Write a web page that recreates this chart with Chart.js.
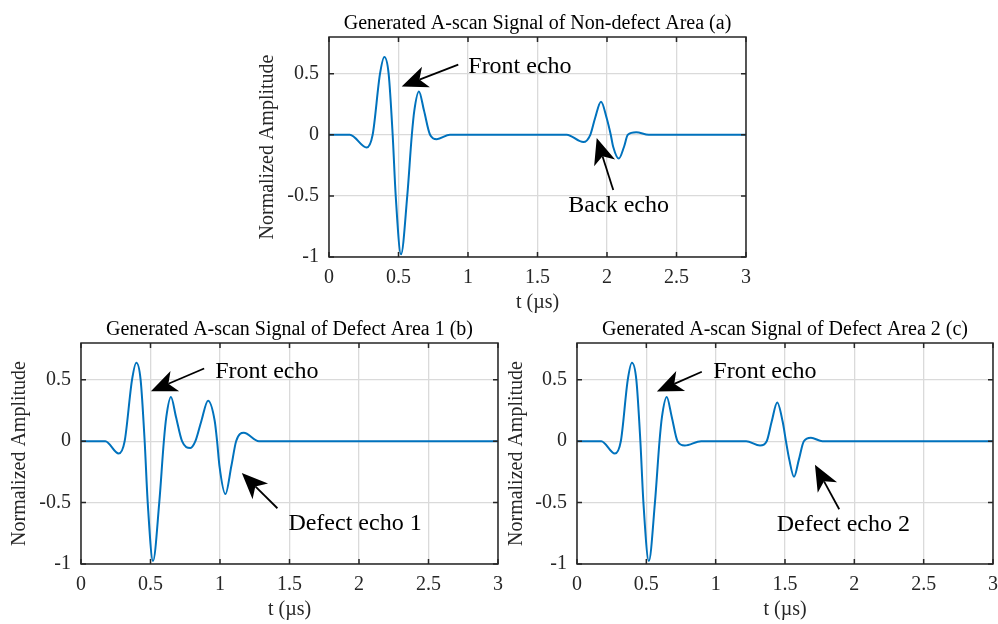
<!DOCTYPE html>
<html>
<head>
<meta charset="utf-8">
<script src="https://cdn.jsdelivr.net/npm/chart.js@4.4.1/dist/chart.umd.min.js"></script>
<style>
  body { margin: 0; background: #fff; }
  #wrap { position: relative; width: 998px; height: 624px; overflow: hidden; background: #fff; }
  canvas { position: absolute; }
</style>
</head>
<body>
<div id="wrap">
  <canvas id="scanA" width="510" height="320" style="left:250px;top:0px;width:510px;height:320px"></canvas>
  <canvas id="scanB" width="512" height="318" style="left:0px;top:306px;width:512px;height:318px"></canvas>
  <canvas id="scanC" width="498" height="318" style="left:500px;top:306px;width:498px;height:318px"></canvas>
</div>
<script>
// axis ticks shared by all three panels
const xTicks = [0, 0.5, 1, 1.5, 2, 2.5, 3];
const yTicks = [-1, -0.5, 0, 0.5];

// (a) non-defect area: front echo + back echo
const timeA = [0, 0.15, 0.271, 0.314, 0.367, 0.398, 0.429, 0.458, 0.48, 0.518, 0.563, 0.596,
               0.614, 0.647, 0.683, 0.727, 0.775, 0.87,
               1.71, 1.83, 1.88, 1.914, 1.957, 1.998, 2.027, 2.045, 2.085, 2.122, 2.15, 2.21, 2.30, 3];
const ampA  = [0, 0, -0.104, 0, 0.5, 0.637, 0.5, 0, -0.5, -0.978, -0.5, 0,
               0.2, 0.355, 0.2, 0, -0.036, 0,
               0, -0.06, 0, 0.135, 0.27, 0.135, 0, -0.1, -0.195, -0.1, 0, 0.02, 0, 0];

// (b) defect area 1: front echo + defect echo 1
const timeB = [0, 0.175, 0.271, 0.314, 0.367, 0.398, 0.429, 0.458, 0.48, 0.518, 0.563, 0.596,
               0.614, 0.647, 0.683, 0.727, 0.787, 0.823, 0.866, 0.914, 0.962, 0.979,
               0.996, 1.039, 1.082, 1.116, 1.171, 1.28, 3];
const ampB  = [0, 0, -0.10, 0, 0.5, 0.64, 0.5, 0, -0.5, -0.975, -0.5, 0,
               0.2, 0.36, 0.2, 0, -0.055, 0, 0.165, 0.33, 0.165, 0,
               -0.2, -0.43, -0.2, 0, 0.068, 0, 0];

// (c) defect area 2: front echo + defect echo 2
const timeC = [0, 0.175, 0.273, 0.316, 0.366, 0.396, 0.428, 0.457, 0.479, 0.518, 0.562, 0.595,
               0.613, 0.647, 0.683, 0.725, 0.777, 0.895,
               1.22, 1.32, 1.368, 1.404, 1.444, 1.483, 1.507, 1.531, 1.565, 1.60, 1.636, 1.687, 1.77, 3];
const ampC  = [0, 0, -0.10, 0, 0.5, 0.64, 0.5, 0, -0.5, -0.975, -0.5, 0,
               0.2, 0.36, 0.2, 0, -0.035, 0,
               0, -0.035, 0, 0.16, 0.315, 0.16, 0, -0.15, -0.29, -0.15, 0, 0.028, 0, 0];

// arrow notes, in data units: tail -> head, text baseline start
const notesA = [
  { text: 'Front echo', tail: [0.930, 0.574], head: [0.523, 0.396], at: [1.002, 0.505] },
  { text: 'Back echo',  tail: [2.045, -0.451], head: [1.926, -0.027], at: [1.722, -0.629] }
];
const notesB = [
  { text: 'Front echo',    tail: [0.886, 0.592], head: [0.503, 0.407], at: [0.965, 0.513] },
  { text: 'Defect echo 1', tail: [1.413, -0.546], head: [1.157, -0.259], at: [1.492, -0.724] }
];
const notesC = [
  { text: 'Front echo',    tail: [0.900, 0.566], head: [0.576, 0.405], at: [0.983, 0.513] },
  { text: 'Defect echo 2', tail: [1.891, -0.554], head: [1.716, -0.191], at: [1.440, -0.730] }
];

const SERIF = '"Liberation Serif", "Times New Roman", Times, serif';
const INK = '#262626';

function drawArrow(ctx, x1, y1, x2, y2) {
  const ang = Math.atan2(y2 - y1, x2 - x1);
  const L = Math.hypot(x2 - x1, y2 - y1);
  const len = 26, half = 11, notch = 7;
  ctx.save();
  ctx.translate(x2, y2);
  ctx.rotate(ang);
  ctx.strokeStyle = '#000';
  ctx.fillStyle = '#000';
  ctx.lineWidth = 1.8;
  ctx.beginPath();
  ctx.moveTo(-L, 0);
  ctx.lineTo(-len + notch, 0);
  ctx.stroke();
  ctx.beginPath();
  ctx.moveTo(0, 0);
  ctx.lineTo(-len, -half);
  ctx.lineTo(-len + notch, 0);
  ctx.lineTo(-len, half);
  ctx.closePath();
  ctx.fill();
  ctx.restore();
}

// box frame with inward ticks on all four sides, then the arrow notes
const boxPlugin = {
  id: 'scanBox',
  afterDraw(chart, args, opts) {
    const { ctx, chartArea: a, scales: { x, y } } = chart;
    ctx.save();
    ctx.strokeStyle = INK;
    ctx.lineWidth = 1.5;
    ctx.strokeRect(a.left, a.top, a.right - a.left, a.bottom - a.top);
    ctx.beginPath();
    xTicks.forEach(v => {
      const px = x.getPixelForValue(v);
      ctx.moveTo(px, a.bottom); ctx.lineTo(px, a.bottom - 5);
      ctx.moveTo(px, a.top); ctx.lineTo(px, a.top + 5);
    });
    yTicks.forEach(v => {
      const py = y.getPixelForValue(v);
      ctx.moveTo(a.left, py); ctx.lineTo(a.left + 5, py);
      ctx.moveTo(a.right, py); ctx.lineTo(a.right - 5, py);
    });
    ctx.stroke();

    (opts.notes || []).forEach(n => {
      drawArrow(ctx,
        x.getPixelForValue(n.tail[0]), y.getPixelForValue(n.tail[1]),
        x.getPixelForValue(n.head[0]), y.getPixelForValue(n.head[1]));
      ctx.fillStyle = '#000';
      ctx.font = '24px ' + SERIF;
      ctx.textBaseline = 'alphabetic';
      ctx.textAlign = 'left';
      ctx.fillText(n.text, x.getPixelForValue(n.at[0]), y.getPixelForValue(n.at[1]));
    });
    ctx.restore();
  }
};

function makeScan(id, title, times, amps, notes, g) {
  const ctx = document.getElementById(id).getContext('2d');
  return new Chart(ctx, {
    type: 'line',
    data: {
      datasets: [{
        data: times.map((t, i) => ({ x: t, y: amps[i] })),
        borderColor: '#0072BD',
        borderWidth: 2,
        pointRadius: 0,
        fill: false,
        cubicInterpolationMode: 'monotone'
      }]
    },
    options: {
      responsive: false,
      animation: false,
      layout: { padding: { left: 0, right: g.padRight, top: 0, bottom: 0 } },
      plugins: {
        legend: { display: false },
        tooltip: { enabled: false },
        title: {
          display: true,
          text: title,
          fullSize: false,
          color: '#000',
          font: { family: SERIF, size: 20, weight: 'normal', lineHeight: 1.2 },
          padding: { top: 12, bottom: 1 }
        },
        scanBox: { notes: notes }
      },
      scales: {
        x: {
          type: 'linear',
          min: 0, max: 3,
          afterBuildTicks: s => { s.ticks = xTicks.map(v => ({ value: v })); },
          afterFit: s => { s.height = g.xHeight; s.paddingLeft = 0; s.paddingRight = 0; },
          grid: { color: '#dadada', lineWidth: 1.3, drawTicks: false },
          border: { display: false },
          ticks: {
            padding: 9,
            color: INK,
            font: { family: SERIF, size: 20, lineHeight: 1.2 },
            maxRotation: 0,
            callback: v => String(v)
          },
          title: {
            display: true,
            text: 't (\u00b5s)',
            color: INK,
            font: { family: SERIF, size: 20, lineHeight: 1.2 },
            padding: { top: 0, bottom: g.xTitlePad }
          }
        },
        y: {
          type: 'linear',
          min: -1, max: 0.8,
          afterBuildTicks: s => { s.ticks = yTicks.map(v => ({ value: v })); },
          afterFit: s => { s.width = g.yWidth; s.paddingTop = 0; s.paddingBottom = 0; },
          grid: { color: '#dadada', lineWidth: 1.3, drawTicks: false },
          border: { display: false },
          ticks: {
            padding: 10,
            color: INK,
            font: { family: SERIF, size: 20, lineHeight: 1.2 },
            callback: v => String(v)
          },
          title: {
            display: true,
            text: 'Normalized Amplitude',
            color: INK,
            font: { family: SERIF, size: 20, lineHeight: 1.2 },
            padding: { top: g.yTitlePad, bottom: 0 }
          }
        }
      }
    },
    plugins: [boxPlugin]
  });
}

makeScan('scanA', 'Generated A-scan Signal of Non-defect Area (a)', timeA, ampA, notesA,
  { yWidth: 79, xHeight: 63, padRight: 14, yTitlePad: 6, xTitlePad: 5 });
makeScan('scanB', 'Generated A-scan Signal of Defect Area 1 (b)', timeB, ampB, notesB,
  { yWidth: 81, xHeight: 60, padRight: 14, yTitlePad: 8, xTitlePad: 2 });
makeScan('scanC', 'Generated A-scan Signal of Defect Area 2 (c)', timeC, ampC, notesC,
  { yWidth: 77, xHeight: 60, padRight: 5, yTitlePad: 5, xTitlePad: 2 });
</script>
</body>
</html>
